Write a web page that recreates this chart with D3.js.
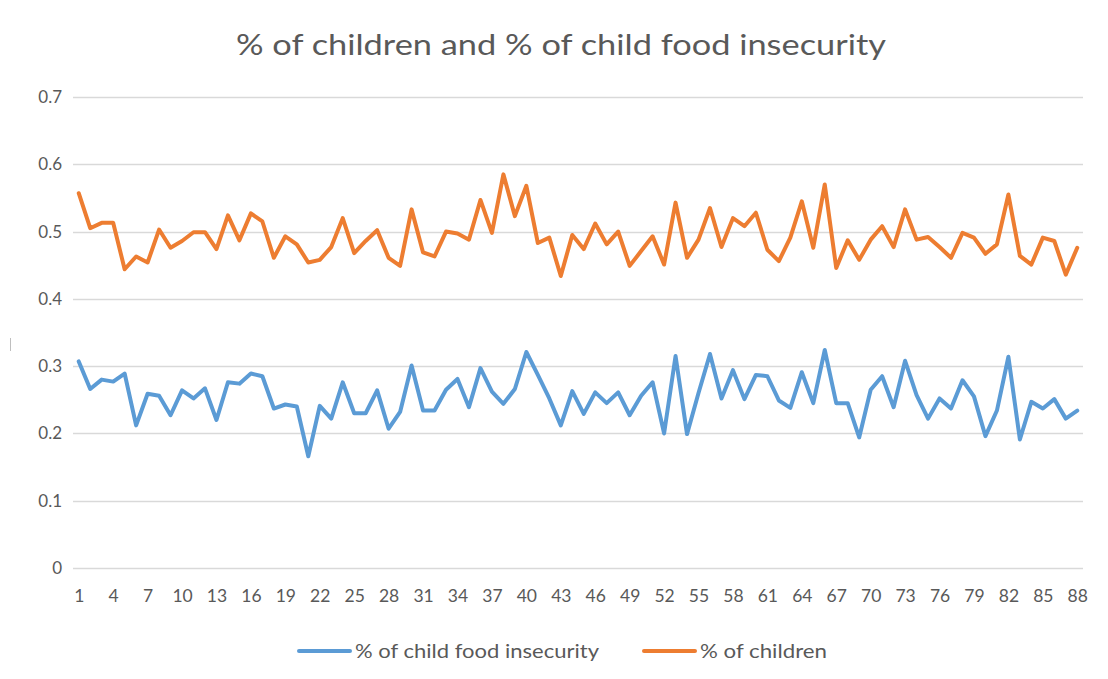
<!DOCTYPE html>
<html>
<head>
<meta charset="utf-8">
<script src="https://cdn.jsdelivr.net/npm/d3@7"></script>
<style>
  html, body { margin: 0; padding: 0; background: #fff; }
  svg { display: block; }
  text { font-family: Lato, "Open Sans", sans-serif; fill: #595959; }
</style>
</head>
<body>
<svg id="chart" width="1108" height="679"></svg>
<script>
const title = "% of children and % of child food insecurity";
const seriesNames = ["% of child food insecurity", "% of children"];
const yTicks = [0, 0.1, 0.2, 0.3, 0.4, 0.5, 0.6, 0.7];

// Share of child food insecurity, counties 1–88
const foodInsecurity = [
  0.307, 0.266, 0.280, 0.277, 0.289, 0.212, 0.259, 0.256, 0.227, 0.264,
  0.252, 0.267, 0.220, 0.276, 0.274, 0.289, 0.285, 0.237, 0.243, 0.240,
  0.166, 0.241, 0.222, 0.276, 0.230, 0.230, 0.264, 0.207, 0.232, 0.301,
  0.234, 0.234, 0.265, 0.281, 0.239, 0.297, 0.262, 0.244, 0.266, 0.321,
  0.287, 0.252, 0.212, 0.263, 0.229, 0.261, 0.245, 0.261, 0.227, 0.256,
  0.276, 0.200, 0.315, 0.199, 0.260, 0.318, 0.252, 0.294, 0.251, 0.287,
  0.285, 0.249, 0.238, 0.291, 0.245, 0.324, 0.245, 0.245, 0.194, 0.265,
  0.285, 0.239, 0.308, 0.257, 0.222, 0.252, 0.237, 0.279, 0.255, 0.196,
  0.234, 0.314, 0.191, 0.247, 0.237, 0.251, 0.222, 0.234
];

// Share of children in the population, counties 1–88
const children = [
  0.557, 0.505, 0.513, 0.513, 0.444, 0.463, 0.454, 0.503, 0.476, 0.486,
  0.499, 0.499, 0.474, 0.524, 0.487, 0.527, 0.515, 0.461, 0.493, 0.481,
  0.454, 0.458, 0.477, 0.520, 0.468, 0.486, 0.502, 0.461, 0.449, 0.533,
  0.469, 0.463, 0.500, 0.497, 0.488, 0.547, 0.498, 0.585, 0.523, 0.568,
  0.483, 0.491, 0.434, 0.495, 0.474, 0.512, 0.481, 0.500, 0.449, 0.471,
  0.493, 0.451, 0.543, 0.461, 0.488, 0.535, 0.477, 0.520, 0.508, 0.528,
  0.473, 0.456, 0.491, 0.545, 0.476, 0.570, 0.446, 0.487, 0.458, 0.488,
  0.508, 0.477, 0.533, 0.488, 0.492, 0.477, 0.461, 0.498, 0.491, 0.467,
  0.481, 0.555, 0.464, 0.451, 0.491, 0.486, 0.436, 0.476
];

const categories = d3.range(1, foodInsecurity.length + 1);
const xTickLabels = categories.filter(c => (c - 1) % 3 === 0);
const colors = ["#5B9BD5", "#ED7D31"];

const svg = d3.select("#chart");
const plot = { left: 73, right: 1083, top: 97, bottom: 568 };

const x = d3.scalePoint()
  .domain(categories)
  .range([plot.left, plot.right])
  .padding(0.5);

const y = d3.scaleLinear()
  .domain([0, 0.7])
  .range([plot.bottom, plot.top]);

// Title
svg.append("text")
  .attr("x", 236)
  .attr("y", 55)
  .attr("textLength", 650)
  .attr("lengthAdjust", "spacingAndGlyphs")
  .style("font-size", "29px")
  .text(title);

// Small marker at the left edge of the frame
svg.append("line")
  .attr("x1", 10.5).attr("x2", 10.5)
  .attr("y1", 338).attr("y2", 351)
  .attr("stroke", "#bfbfbf")
  .attr("stroke-width", 1);

// Horizontal gridlines
svg.append("g")
  .selectAll("line")
  .data(yTicks)
  .join("line")
  .attr("x1", plot.left)
  .attr("x2", plot.right)
  .attr("y1", d => Math.round(y(d)) + 0.5)
  .attr("y2", d => Math.round(y(d)) + 0.5)
  .attr("stroke", "#d9d9d9")
  .attr("stroke-width", 1.3);

// Y axis labels
const yAxis = d3.axisLeft(y)
  .tickValues(yTicks)
  .tickFormat(d => d === 0 ? "0" : d3.format(".1f")(d))
  .tickSize(0)
  .tickPadding(0);

const gy = svg.append("g")
  .attr("transform", `translate(${plot.left - 11},0)`)
  .call(yAxis);
gy.select(".domain").remove();
gy.selectAll("text")
  .style("font-size", "17px")
  .style("font-family", "Lato, 'Open Sans', sans-serif")
  .attr("fill", "#595959");

// X axis labels
const xAxis = d3.axisBottom(x)
  .tickValues(xTickLabels)
  .tickSize(0)
  .tickPadding(0);

const gx = svg.append("g")
  .attr("transform", `translate(0,${plot.bottom + 22})`)
  .call(xAxis);
gx.select(".domain").remove();
gx.selectAll("text")
  .style("font-size", "17.5px")
  .style("font-family", "Lato, 'Open Sans', sans-serif")
  .attr("fill", "#595959");

// Series lines
const line = d3.line()
  .x((d, i) => x(categories[i]))
  .y(d => y(d));

[foodInsecurity, children].forEach((vals, k) => {
  svg.append("path")
    .datum(vals)
    .attr("fill", "none")
    .attr("stroke", colors[k])
    .attr("stroke-width", 4)
    .attr("stroke-linejoin", "round")
    .attr("stroke-linecap", "round")
    .attr("d", line);
});

// Legend
const legendItems = [
  { name: seriesNames[0], color: colors[0], x0: 299, width: 244 },
  { name: seriesNames[1], color: colors[1], x0: 644, width: 127 }
];
const lg = svg.append("g");
legendItems.forEach(item => {
  lg.append("line")
    .attr("x1", item.x0)
    .attr("x2", item.x0 + 51)
    .attr("y1", 651)
    .attr("y2", 651)
    .attr("stroke", item.color)
    .attr("stroke-width", 4)
    .attr("stroke-linecap", "round");
  lg.append("text")
    .attr("x", item.x0 + 56)
    .attr("y", 658)
    .attr("textLength", item.width)
    .attr("lengthAdjust", "spacingAndGlyphs")
    .style("font-size", "19px")
    .text(item.name);
});
</script>
</body>
</html>
